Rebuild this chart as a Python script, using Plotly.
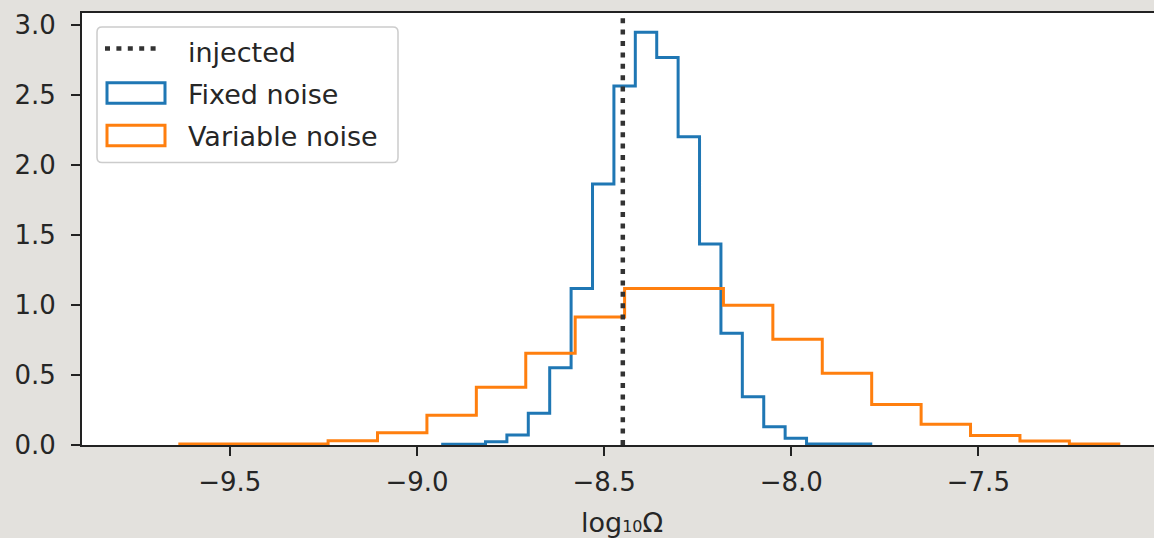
import numpy as np
import plotly.graph_objects as go

# ---------------- data ----------------
injected = -8.45

fixed_start, fixed_end, fixed_nbins = -8.9313, -7.7875, 20
fixed_density = [0.005, 0.005, 0.024, 0.071, 0.226, 0.552, 1.117, 1.864, 2.564, 2.948,
                 2.767, 2.202, 1.436, 0.798, 0.345, 0.131, 0.048, 0.007, 0.007, 0.007]

var_start, var_end, var_nbins = -9.6336, -7.1248, 19
var_density = [0.008, 0.008, 0.008, 0.031, 0.088, 0.212, 0.412, 0.655, 0.914, 1.117,
               1.117, 0.998, 0.755, 0.512, 0.290, 0.148, 0.067, 0.029, 0.007]

x_tickvals = [-9.5, -9.0, -8.5, -8.0, -7.5]
x_ticktext = ["\u22129.5", "\u22129.0", "\u22128.5", "\u22128.0", "\u22127.5"]
y_tickvals = [0.0, 0.5, 1.0, 1.5, 2.0, 2.5, 3.0]
y_ticktext = ["0.0", "0.5", "1.0", "1.5", "2.0", "2.5", "3.0"]

labels = ["injected", "Fixed noise", "Variable noise"]
colors = ["#333333", "#1f77b4", "#ff7f0e"]
x_title = "log<span style='font-size:16px'>10</span>\u03a9"

# ---------------- layout geometry ----------------
W, H = 1154, 538
L, T, R, B = 82, 13, 0, 93
PW, PH = W - L - R, H - T - B
FONT = "DejaVu Sans"
TXT = "#262626"


def px(xp):
    return (xp - L) / PW


def py(yp):
    return (H - B - yp) / PH


def step_xy(start, end, nbins, dens):
    edges = np.linspace(start, end, nbins + 1)
    xs = [edges[0]] + list(edges)
    ys = [0.0] + list(dens) + [0.0]
    return xs, ys


fig = go.Figure()
for (s, e, n, d), lab, col in [((fixed_start, fixed_end, fixed_nbins, fixed_density), labels[1], colors[1]),
                              ((var_start, var_end, var_nbins, var_density), labels[2], colors[2])]:
    xs, ys = step_xy(s, e, n, d)
    fig.add_trace(go.Scatter(x=xs, y=ys, mode="lines", line=dict(color=col, width=3, shape="hv"),
                             name=lab, showlegend=False, hoverinfo="skip"))

shapes = []
# injected vertical line, full height of axes
shapes.append(dict(type="line", xref="x", yref="paper", x0=injected, x1=injected, y0=0, y1=1,
                   line=dict(color=colors[0], width=4.5, dash="5px,6.4px"), layer="above"))

# manual legend (matplotlib style)
bx0, bx1, by0, by1, rr = 97, 398, 27, 162.5, 5
path = (f"M {px(bx0+rr)},{py(by0)} L {px(bx1-rr)},{py(by0)} Q {px(bx1)},{py(by0)} {px(bx1)},{py(by0+rr)} "
        f"L {px(bx1)},{py(by1-rr)} Q {px(bx1)},{py(by1)} {px(bx1-rr)},{py(by1)} "
        f"L {px(bx0+rr)},{py(by1)} Q {px(bx0)},{py(by1)} {px(bx0)},{py(by1-rr)} "
        f"L {px(bx0)},{py(by0+rr)} Q {px(bx0)},{py(by0)} {px(bx0+rr)},{py(by0)} Z")
shapes.append(dict(type="path", xref="paper", yref="paper", path=path,
                   line=dict(color="#cccccc", width=1.5), fillcolor="rgba(255,255,255,0.9)", layer="above"))
shapes.append(dict(type="line", xref="paper", yref="paper", x0=px(105), x1=px(162), y0=py(48.5), y1=py(48.5),
                   line=dict(color=colors[0], width=4.5, dash="5px,6.4px"), layer="above"))
for yc, col in [(93, colors[1]), (135.5, colors[2])]:
    shapes.append(dict(type="rect", xref="paper", yref="paper", x0=px(107), x1=px(165),
                       y0=py(yc - 10.3), y1=py(yc + 10.3), line=dict(color=col, width=3),
                       fillcolor="rgba(0,0,0,0)", layer="above"))

annotations = []
for lab, yc in zip(labels, [52, 94, 136.5]):
    annotations.append(dict(xref="paper", yref="paper", x=px(186), y=py(yc), text=lab, showarrow=False,
                            xanchor="left", yanchor="middle", font=dict(family=FONT, size=27, color=TXT)))
annotations.append(dict(xref="paper", yref="paper", x=px(622), y=py(522), text=x_title,
                        showarrow=False, xanchor="center", yanchor="middle",
                        font=dict(family=FONT, size=27, color=TXT)))

fig.update_layout(
    width=W, height=H,
    margin=dict(l=L, r=R, t=T, b=B, pad=0),
    paper_bgcolor="#e3e1dd", plot_bgcolor="white",
    showlegend=False,
    shapes=shapes, annotations=annotations,
    font=dict(family=FONT, size=26, color=TXT),
)
fig.update_xaxes(range=[-9.895, -7.0307], showgrid=False, zeroline=False,
                 showline=True, linecolor="#222222", linewidth=2, mirror=True,
                 ticks="outside", ticklen=9, tickwidth=1.5, tickcolor="#222222",
                 tickvals=x_tickvals, ticktext=x_ticktext, ticklabelstandoff=4,
                 tickfont=dict(family=FONT, size=26, color=TXT))
fig.update_yaxes(range=[0, 3.0857], showgrid=False, zeroline=False,
                 showline=True, linecolor="#222222", linewidth=2,
                 ticks="outside", ticklen=9, tickwidth=1.5, tickcolor="#222222",
                 tickvals=y_tickvals, ticktext=y_ticktext, ticklabelstandoff=10,
                 tickfont=dict(family=FONT, size=26, color=TXT))

fig.write_html("out.html")
